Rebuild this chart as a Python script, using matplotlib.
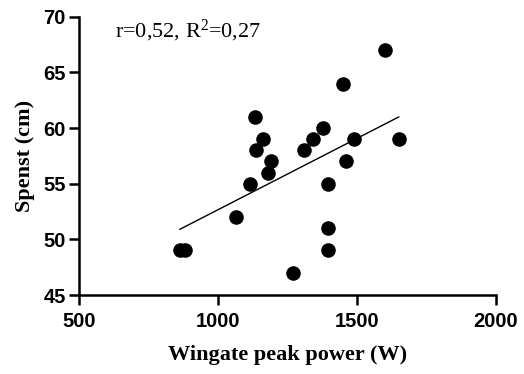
import matplotlib
matplotlib.use("Agg")
import matplotlib.pyplot as plt
import numpy as np

plt.rcParams["mathtext.fontset"] = "custom"
plt.rcParams["mathtext.rm"] = "Liberation Serif"
plt.rcParams["mathtext.it"] = "Liberation Serif:italic"
plt.rcParams["mathtext.bf"] = "Liberation Serif:bold"

power = [863, 881, 1065, 1116, 1134, 1137, 1162, 1179, 1189, 1271, 1308,
         1342, 1376, 1397, 1396, 1396, 1448, 1459, 1489, 1600, 1650]
spenst = [49, 49, 52, 55, 61, 58, 59, 56, 57, 47, 58,
          59, 60, 55, 51, 49, 64, 57, 59, 67, 59]
xticks = [500, 1000, 1500, 2000]
yticks = [45, 50, 55, 60, 65, 70]

fig = plt.figure(figsize=(5.24, 3.74), dpi=100)
ax = fig.add_axes([0.1508, 0.2112, 0.7958, 0.7441])

ax.scatter(power, spenst, s=110, color="black", zorder=3, linewidths=0)
slope, icpt = np.polyfit(power, spenst, 1)
xl = np.array([min(power), max(power)])
ax.plot(xl, slope * xl + icpt, color="black", lw=1.0)

ax.set_xlim(500, 2000)
ax.set_ylim(45, 70)
ax.set_xticks(xticks)
ax.set_yticks(yticks)
for s in ["top", "right"]:
    ax.spines[s].set_visible(False)
for s in ["left", "bottom"]:
    ax.spines[s].set_linewidth(1.8)
ax.tick_params(width=1.8, length=7.5, direction="out")
ax.tick_params(axis="x", pad=5)
ax.tick_params(axis="y", pad=2)
for lab in ax.get_xticklabels() + ax.get_yticklabels():
    lab.set_family("Liberation Sans")
    lab.set_fontweight("bold")
    lab.set_fontsize(14.5)
ax.set_xlabel("Wingate peak power (W)", family="Liberation Serif",
              fontweight="bold", fontsize=16, labelpad=10)
ax.set_ylabel("Spenst (cm)", family="Liberation Serif",
              fontweight="bold", fontsize=16, labelpad=6)
ax.text(0.086, 0.95, r"r=0,52, R$^2$=0,27", transform=ax.transAxes,
        family="Liberation Serif", fontsize=16, va="center")
fig.savefig("out.png", dpi=100)
